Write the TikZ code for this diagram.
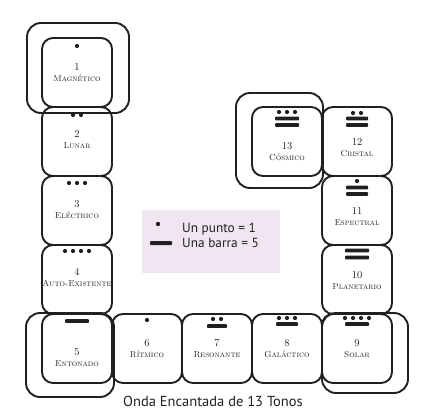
\documentclass[tikz,border=0pt]{standalone}
\usepackage{fontspec}
\newfontfamily\capfont{PT Sans}
\usepackage{tikz}
\usepackage{xcolor}
\definecolor{ink}{HTML}{231F20}
\definecolor{legendbg}{HTML}{F0E6F2}
\newcommand\tonenum[1]{{\fontsize{10.5}{11}\selectfont #1}}

\begin{document}
\begin{tikzpicture}[x=1pt,y=-1pt,
  tone/.style={draw=ink,line width=1.9pt,rounded corners=11pt,anchor=north west,
    minimum width=70pt,minimum height=69pt,inner sep=0pt,outer sep=0pt},
  frame/.style={draw=ink,line width=1.9pt,rounded corners=14pt},
  lbl/.style={align=center,text=ink,inner sep=0pt,font=\fontsize{8.6}{11}\selectfont},
  bar/.style={fill=ink,rounded corners=0.8pt}]
\useasboundingbox (0,0) rectangle (425,410);

% outer frames
\draw[frame] (27,23) rectangle (129,113);
\draw[frame] (26,313) rectangle (114,397);
\draw[frame] (322,313) rectangle (408,393);
\draw[frame] (236,93) rectangle (323,188);

% the 13 tones
\node[tone] (t1) at (42,38) {};
\node[tone] (t2) at (42,107) {};
\node[tone] (t3) at (42,176) {};
\node[tone] (t4) at (42,245) {};
\node[tone] (t5) at (42,314) {};
\node[tone] (t6) at (112,314) {};
\node[tone] (t7) at (182,314) {};
\node[tone] (t8) at (252,314) {};
\node[tone] (t9) at (322,314) {};
\node[tone] (t10) at (322,245) {};
\node[tone] (t11) at (322,176) {};
\node[tone] (t12) at (322,107) {};
\node[tone] (t13) at (252,107) {};

\node[lbl] (l1) at (77,72.5) {\tonenum{1}\\\textsc{Magnético}};
\node[lbl] (l2) at (77,140) {\tonenum{2}\\\textsc{Lunar}};
\node[lbl] (l3) at (77,209.5) {\tonenum{3}\\\textsc{Eléctrico}};
\node[lbl] (l4) at (77,277.5) {\tonenum{4}\\\textsc{Auto-Existente}};
\node[lbl] (l5) at (77,357.5) {\tonenum{5}\\\textsc{Entonado}};
\node[lbl] (l6) at (147,349) {\tonenum{6}\\\textsc{Rítmico}};
\node[lbl] (l7) at (217,348.5) {\tonenum{7}\\\textsc{Resonante}};
\node[lbl] (l8) at (287,348.5) {\tonenum{8}\\\textsc{Galáctico}};
\node[lbl] (l9) at (357,348.5) {\tonenum{9}\\\textsc{Solar}};
\node[lbl] (l10) at (357,281) {\tonenum{10}\\\textsc{Planetario}};
\node[lbl] (l11) at (357,217) {\tonenum{11}\\\textsc{Espectral}};
\node[lbl] (l12) at (357,148) {\tonenum{12}\\\textsc{Cristal}};
\node[lbl] (l13) at (287,152) {\tonenum{13}\\\textsc{Cósmico}};

% dots and bars
\fill[ink] (77,46) circle[radius=2.1pt];
\fill[ink] (73,115) circle[radius=2.1pt];
\fill[ink] (81,115) circle[radius=2.1pt];
\fill[ink] (69,183) circle[radius=2.1pt];
\fill[ink] (77,183) circle[radius=2.1pt];
\fill[ink] (85,183) circle[radius=2.1pt];
\fill[ink] (65,251) circle[radius=2.1pt];
\fill[ink] (73,251) circle[radius=2.1pt];
\fill[ink] (81,251) circle[radius=2.1pt];
\fill[ink] (89,251) circle[radius=2.1pt];
\fill[bar] (65,319.2) rectangle (89,322.8);
\fill[ink] (147,320) circle[radius=2.1pt];
\fill[ink] (213,319) circle[radius=2.1pt];
\fill[ink] (221,319) circle[radius=2.1pt];
\fill[bar] (207,324.2) rectangle (227,327.8);
\fill[ink] (279,318) circle[radius=2.1pt];
\fill[ink] (287,318) circle[radius=2.1pt];
\fill[ink] (295,318) circle[radius=2.1pt];
\fill[bar] (276,322.2) rectangle (298,325.8);
\fill[ink] (345,318) circle[radius=2.1pt];
\fill[ink] (353,318) circle[radius=2.1pt];
\fill[ink] (361,318) circle[radius=2.1pt];
\fill[ink] (369,318) circle[radius=2.1pt];
\fill[bar] (345,322.2) rectangle (369,325.8);
\fill[bar] (345,248.7) rectangle (369,252.3);
\fill[bar] (345,255.7) rectangle (369,259.3);
\fill[ink] (357,181) circle[radius=2.1pt];
\fill[bar] (346,185.7) rectangle (368,189.3);
\fill[bar] (346,192.2) rectangle (368,195.8);
\fill[ink] (353,113) circle[radius=2.1pt];
\fill[ink] (361,113) circle[radius=2.1pt];
\fill[bar] (346,116.7) rectangle (368,120.3);
\fill[bar] (346,123.2) rectangle (368,126.8);
\fill[ink] (279,112) circle[radius=2.1pt];
\fill[ink] (287,112) circle[radius=2.1pt];
\fill[ink] (295,112) circle[radius=2.1pt];
\fill[bar] (275,116.7) rectangle (299,120.3);
\fill[bar] (275,123.2) rectangle (299,126.8);

% legend
\fill[legendbg] (142,210) rectangle (280,273);
\fill[ink] (158,224) circle[radius=2.2pt];
\fill[bar] (150,241) rectangle (172,245);
\node[anchor=west,inner sep=0pt,text=ink,font=\capfont\fontsize{13.3}{15}\selectfont] (k1) at (182,229) {Un punto = 1};
\node[anchor=west,inner sep=0pt,text=ink,font=\capfont\fontsize{13.3}{15}\selectfont] (k2) at (182,243) {Una barra = 5};

\node[text=ink,inner sep=0pt,font=\capfont\fontsize{14.5}{16}\selectfont] (title) at (213,401) {Onda Encantada de 13 Tonos};
\end{tikzpicture}
\end{document}
